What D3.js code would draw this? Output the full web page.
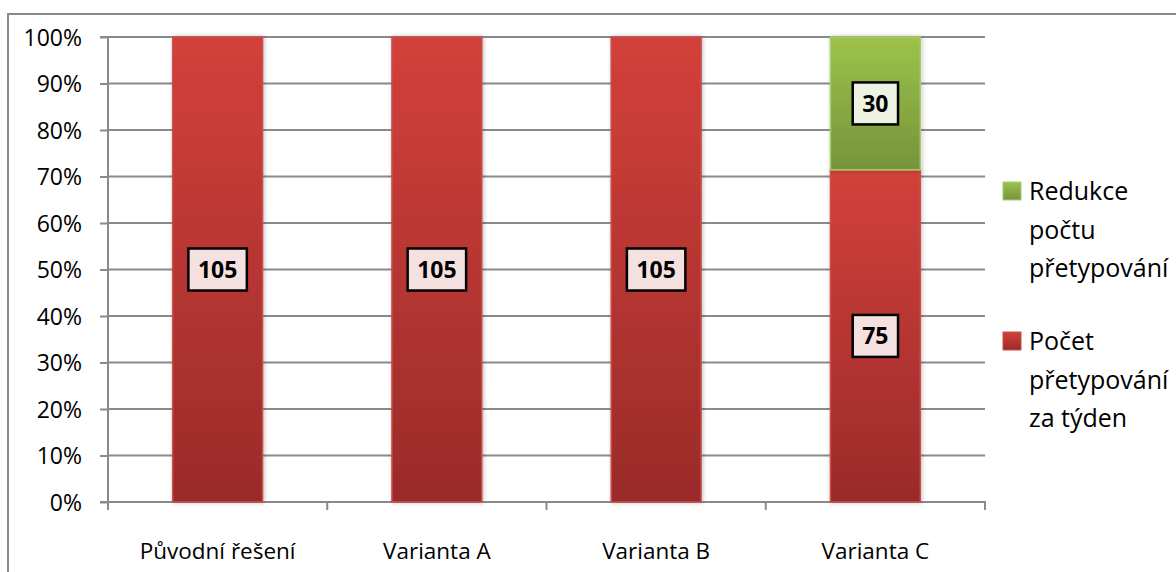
<!DOCTYPE html>
<html>
<head>
<meta charset="utf-8">
<script src="https://cdn.jsdelivr.net/npm/d3@7"></script>
<style>
  body { margin: 0; background: #fff; }
  text { font-family: "Open Sans", Lato, sans-serif; fill: #000; }
</style>
</head>
<body>
<script>
// data
const categories = ["Původní řešení", "Varianta A", "Varianta B", "Varianta C"];
const pocet = [105, 105, 105, 75];      // Počet přetypování za týden
const redukce = [0, 0, 0, 30];          // Redukce počtu přetypování
const yTicks = [0, 0.1, 0.2, 0.3, 0.4, 0.5, 0.6, 0.7, 0.8, 0.9, 1];
const legendItems = [
  { key: "redukce", lines: ["Redukce", "počtu", "přetypování"] },
  { key: "pocet", lines: ["Počet", "přetypování", "za týden"] }
];

const width = 1176, height = 572;
const plot = { left: 108, right: 985, top: 37, bottom: 502 };

const svg = d3.select("body").append("svg")
    .attr("width", width)
    .attr("height", height);

// frame of the chart area
svg.append("path")
    .attr("d", `M8,${height + 5} V14 H${width + 5}`)
    .attr("fill", "none")
    .attr("stroke", "#898989")
    .attr("stroke-width", 2);

const defs = svg.append("defs");
const gRed = defs.append("linearGradient").attr("id", "gRed")
    .attr("x1", 0).attr("y1", 0).attr("x2", 0).attr("y2", 1);
gRed.append("stop").attr("offset", "0%").attr("stop-color", "#d3403b");
gRed.append("stop").attr("offset", "100%").attr("stop-color", "#9a2b29");
const gGreen = defs.append("linearGradient").attr("id", "gGreen")
    .attr("x1", 0).attr("y1", 0).attr("x2", 0).attr("y2", 1);
gGreen.append("stop").attr("offset", "0%").attr("stop-color", "#9cc34b");
gGreen.append("stop").attr("offset", "100%").attr("stop-color", "#76933b");
const shadow = defs.append("filter").attr("id", "shadow")
    .attr("x", "-20%").attr("y", "-5%").attr("width", "140%").attr("height", "110%");
shadow.append("feDropShadow").attr("dx", 1).attr("dy", 0).attr("stdDeviation", 2)
    .attr("flood-color", "#000").attr("flood-opacity", 0.25);

const x = d3.scaleBand()
    .domain(categories)
    .range([plot.left, plot.right])
    .paddingInner(0.59)
    .paddingOuter(0.295);

const xOuter = d3.scaleBand()
    .domain(categories)
    .range([plot.left, plot.right]);

const y = d3.scaleLinear()
    .domain([0, 1])
    .range([plot.bottom, plot.top]);

// gridlines
svg.append("g")
    .selectAll("line")
    .data(yTicks.slice(1))
    .enter()
    .append("line")
    .attr("x1", plot.left)
    .attr("x2", plot.right)
    .attr("y1", d => y(d))
    .attr("y2", d => y(d))
    .attr("stroke", "#8a8a8a")
    .attr("stroke-width", 2);

// y axis
const yAxis = d3.axisLeft(y)
    .tickValues(yTicks)
    .tickSize(8)
    .tickPadding(18)
    .tickFormat(d3.format(".0%"));
const gy = svg.append("g")
    .attr("transform", `translate(${plot.left},0)`)
    .call(yAxis);
gy.select(".domain").attr("stroke", "#8a8a8a").attr("stroke-width", 2)
    .attr("d", `M-8,${plot.bottom}H0V${plot.top}H-8`);
gy.selectAll(".tick line").attr("stroke", "#8a8a8a").attr("stroke-width", 2);
gy.selectAll(".tick text").style("font-size", "23px").attr("dy", "0.36em");

// x axis
const xAxis = d3.axisBottom(xOuter)
    .tickSize(0)
    .tickPadding(41);
const gx = svg.append("g")
    .attr("transform", `translate(0,${plot.bottom})`)
    .call(xAxis);
gx.select(".domain").attr("stroke", "#8a8a8a").attr("stroke-width", 2)
    .attr("d", `M${plot.left},8V0H${plot.right}V8`);
gx.selectAll(".tick text").style("font-size", "22.5px");
gx.append("g")
    .selectAll("line")
    .data(categories.slice(1))
    .enter()
    .append("line")
    .attr("x1", d => xOuter(d))
    .attr("x2", d => xOuter(d))
    .attr("y1", 0)
    .attr("y2", 8)
    .attr("stroke", "#8a8a8a")
    .attr("stroke-width", 2);

// stacked percent
const rows = categories.map((c, i) => ({ cat: c, pocet: pocet[i], redukce: redukce[i] }));
const stack = d3.stack().keys(["pocet", "redukce"]).offset(d3.stackOffsetExpand);
const series = stack(rows);
const fills = { pocet: "url(#gRed)", redukce: "url(#gGreen)" };
const strokes = { pocet: "#c9504b", redukce: "#a9cc6c" };
const boxFill = { pocet: "#f5e1e0", redukce: "#eef2e3" };

const layers = svg.append("g").selectAll("g")
    .data(series)
    .enter()
    .append("g");

layers.selectAll("rect")
    .data(d => d.filter(p => p[1] > p[0]).map(p => ({ p, key: d.key })))
    .enter()
    .append("rect")
    .attr("x", d => x(d.p.data.cat))
    .attr("width", x.bandwidth())
    .attr("y", d => y(d.p[1]))
    .attr("height", d => y(d.p[0]) - y(d.p[1]))
    .attr("fill", d => fills[d.key])
    .attr("stroke", d => strokes[d.key])
    .attr("stroke-width", 1.5)
    .attr("filter", "url(#shadow)");

// value labels
const labels = svg.append("g");
series.forEach(s => {
  s.filter(p => p[1] > p[0]).forEach(p => {
    const cx = x(p.data.cat) + x.bandwidth() / 2;
    const cy = y((p[0] + p[1]) / 2);
    const g = labels.append("g");
    const t = g.append("text")
        .attr("x", cx)
        .attr("y", cy)
        .attr("dy", "0.36em")
        .attr("text-anchor", "middle")
        .style("font-size", "23px")
        .style("font-weight", "bold")
        .text(p.data[s.key]);
    const bb = t.node().getBBox();
    const w = bb.width + 19;
    g.insert("rect", "text")
        .attr("x", cx - w / 2)
        .attr("y", cy - 21)
        .attr("width", w)
        .attr("height", 42)
        .attr("fill", boxFill[s.key])
        .attr("stroke", "#000")
        .attr("stroke-width", 2.5);
  });
});

// legend
const legendTop = [191, 341];
const legend = svg.append("g");
legendItems.forEach((item, i) => {
  const g = legend.append("g").attr("transform", `translate(1003,${legendTop[i]})`);
  g.append("rect")
      .attr("x", 0)
      .attr("y", -9)
      .attr("width", 18)
      .attr("height", 18)
      .attr("fill", fills[item.key])
      .attr("stroke", strokes[item.key])
      .attr("stroke-width", 1);
  g.selectAll("text")
      .data(item.lines)
      .enter()
      .append("text")
      .attr("x", 26)
      .attr("y", (d, j) => j * 38.5)
      .attr("dy", "0.36em")
      .style("font-size", "25px")
      .text(d => d);
});
</script>
</body>
</html>
